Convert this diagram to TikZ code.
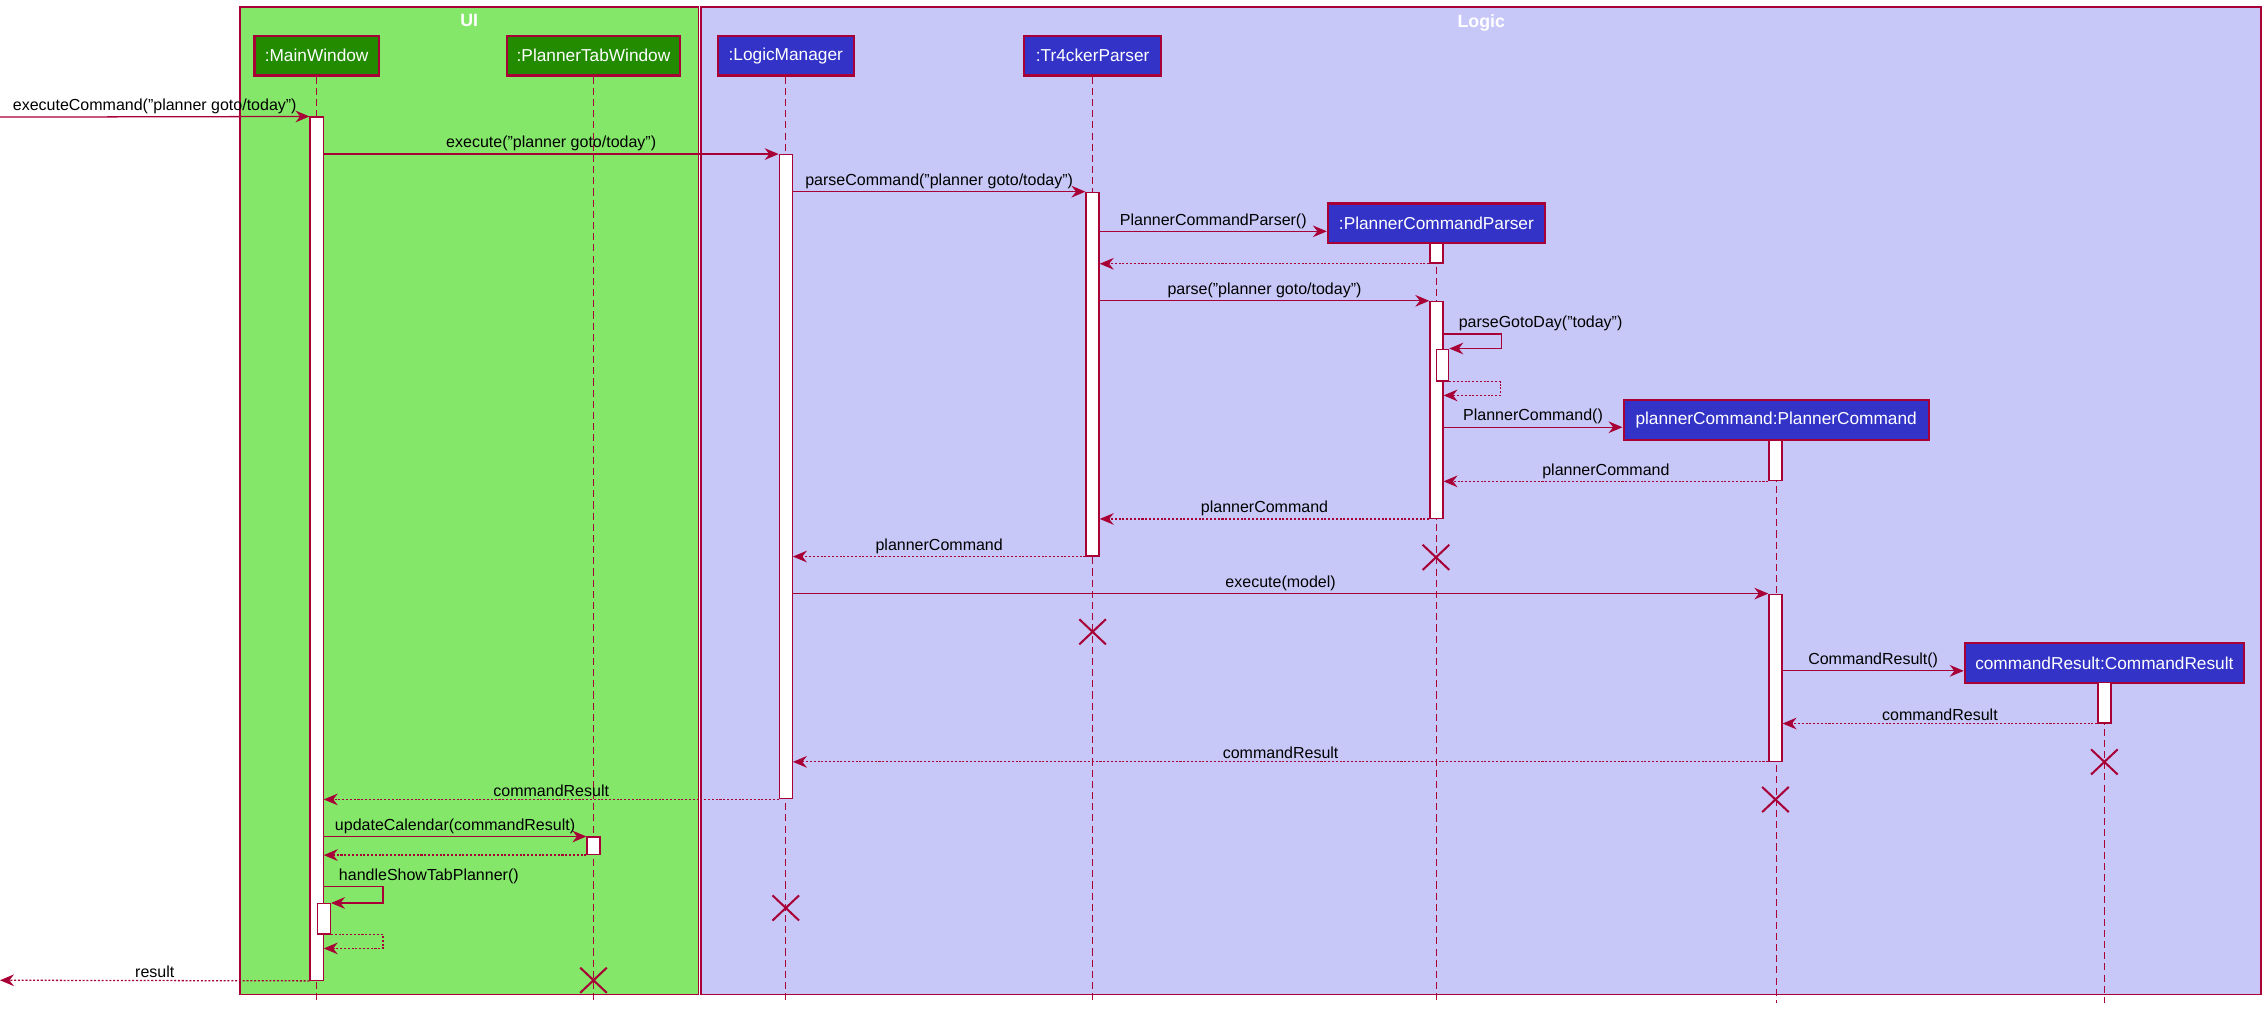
\documentclass[tikz,border=0pt]{standalone}
\usepackage{fontspec}
\setmainfont{Liberation Sans}
\usetikzlibrary{arrows.meta,fit,positioning,shapes.misc}
\definecolor{umlred}{HTML}{A80036}
\definecolor{uifill}{HTML}{84E76A}
\definecolor{uibox}{HTML}{228B00}
\definecolor{logicfill}{HTML}{C8C8F8}
\definecolor{logicbox}{HTML}{3333C8}
\newcommand{\msgfont}{\fontsize{6.3}{7.5}\selectfont}
\newcommand{\partfont}{\fontsize{6.8}{8}\selectfont}

\begin{document}
\begin{tikzpicture}[x=0.02cm,y=-0.02cm,
	frame/.style={draw=umlred,line width=0.6pt,inner sep=0pt},
	frametitle/.style={text=white,inner sep=1pt,font=\fontsize{7}{8}\selectfont\bfseries},
	uipart/.style={draw=umlred,line width=0.9pt,fill=uibox,text=white,minimum height=0.55cm,inner xsep=2pt,font=\partfont},
	logicpart/.style={uipart,fill=logicbox},
	lifeline/.style={draw=umlred,line width=0.45pt,dash pattern=on 2.8pt off 1.6pt},
	act/.style={draw=umlred,fill=white,line width=0.5pt,inner sep=0pt},
	msg/.style={draw=umlred,line width=0.5pt,-{Stealth[length=5.5pt,width=4.6pt,inset=1.8pt]}},
	ret/.style={msg,dash pattern=on 0.8pt off 0.7pt},
	lbl/.style={above,inner sep=0.9pt,font=\msgfont},
	selflbl/.style={anchor=south west,xshift=0.17cm,inner sep=0.9pt,font=\msgfont},
	killed/.style={cross out,draw=umlred,line width=0.8pt,minimum width=0.34cm,minimum height=0.32cm,inner sep=0pt}]
	%\draw[help lines] (0,0) grid[step=100] (1568,699);
	\useasboundingbox (0,0) rectangle (1568,699);
	\coordinate (bot) at (0,694);
	\coordinate (start) at (0,81);
	\coordinate (out) at (0,678);
	\coordinate (m4) at (0,160);
	\coordinate (m7) at (0,231);
	\coordinate (m8) at (0,273.5);
	\coordinate (m9) at (0,295.5);
	\coordinate (m14) at (0,464);
	\coordinate (m20) at (0,613);
	\coordinate (m21) at (0,656);

	% boxes
	\node[frame,fill=uifill,fit={(166,5) (483,688)}] (ui) {};
	\node[frame,fill=logicfill,fit={(485,5) (1564,688)}] (logic) {};
	\node[frametitle,below=2pt of ui.north] (uititle) {UI};
	\node[frametitle,below=2pt of logic.north] (logictitle) {Logic};

	% participants
	\node[uipart,minimum width=1.72cm] (mw) at (219,38.5) {:MainWindow};
	\node[uipart,minimum width=2.4cm] (ptw) at (410.5,38.5) {:PlannerTabWindow};
	\node[logicpart,minimum width=1.88cm] (lm) at (543.5,38.5) {:LogicManager};
	\node[logicpart,minimum width=1.9cm] (tp) at (755.7,38.5) {:Tr4ckerParser};
	\node[logicpart,minimum width=3cm] (pcp) at (993.5,154.5) {:PlannerCommandParser};
	\node[logicpart,minimum width=4.22cm] (pc) at (1228.5,290.5) {plannerCommand:PlannerCommand};
	\node[logicpart,minimum width=3.86cm] (cr) at (1455.5,458.5) {commandResult:CommandResult};
	\foreach \p in {mw,ptw,lm,tp,pcp,pc,cr}
		\draw[lifeline] (\p.south) -- (\p.south |- bot);

	% activations
	\node[act,fit={(214.5,81) (223.5,678)}] (mwact) {};
	\node[act,fit={(219.5,625) (228.5,646)}] (mwself) {};
	\node[act,fit={(406,579) (415,591)}] (ptwact) {};
	\node[act,fit={(539,107) (548,552.5)}] (lmact) {};
	\node[act,fit={(751.2,133) (760.2,384.5)}] (tpact) {};
	\node[act,fit={(989,168) (998,182)}] (pcpact) {};
	\node[act,fit={(989,208.5) (998,358.5)}] (pcpmain) {};
	\node[act,fit={(993.5,241.5) (1002,263.5)}] (pcpself) {};
	\node[act,fit={(1223.5,304.5) (1232.5,332.5)}] (pcact) {};
	\node[act,fit={(1223.5,411) (1232.5,526.5)}] (pcmain) {};
	\node[act,fit={(1451,472) (1460,500)}] (cract) {};

	% messages
	\draw[msg] (start) -- node[lbl] {executeCommand("planner goto/today")} (mwact.north west);
	\draw[msg] (mwact.east |- lmact.north) -- node[lbl] {execute("planner goto/today")} (lmact.north west);
	\draw[msg] (lmact.east |- tpact.north) -- node[lbl] {parseCommand("planner goto/today")} (tpact.north west);
	\draw[msg] (tpact.east |- m4) -- node[lbl] {PlannerCommandParser()} (pcp.west |- m4);
	\draw[ret] (pcpact.south west) -- (tpact.east |- pcpact.south);
	\draw[msg] (tpact.east |- pcpmain.north) -- node[lbl] {parse("planner goto/today")} (pcpmain.north west);
	\draw[msg] (pcpmain.east |- m7) node[selflbl] {parseGotoDay("today")} -- ++(40,0) |- (pcpself.north east);
	\draw[ret] (pcpself.south east) -- ++(35.5,0) |- (pcpmain.east |- m8);
	\draw[msg] (pcpmain.east |- m9) -- node[lbl] {PlannerCommand()} (pc.west |- m9);
	\draw[ret] (pcact.south west) -- node[lbl] {plannerCommand} (pcpmain.east |- pcact.south);
	\draw[ret] (pcpmain.south west) -- node[lbl] {plannerCommand} (tpact.east |- pcpmain.south);
	\draw[ret] (tpact.south west) -- node[lbl] {plannerCommand} (lmact.east |- tpact.south);
	\draw[msg] (lmact.east |- pcmain.north) -- node[lbl] {execute(model)} (pcmain.north west);
	\draw[msg] (pcmain.east |- m14) -- node[lbl] {CommandResult()} (cr.west |- m14);
	\draw[ret] (cract.south west) -- node[lbl] {commandResult} (pcmain.east |- cract.south);
	\draw[ret] (pcmain.south west) -- node[lbl] {commandResult} (lmact.east |- pcmain.south);
	\draw[ret] (lmact.south west) -- node[lbl] {commandResult} (mwact.east |- lmact.south);
	\draw[msg] (mwact.east |- ptwact.north) -- node[lbl] {updateCalendar(commandResult)} (ptwact.north west);
	\draw[ret] (ptwact.south west) -- (mwact.east |- ptwact.south);
	\draw[msg] (mwact.east |- m20) node[selflbl] {handleShowTabPlanner()} -- ++(41,0) |- (mwself.north east);
	\draw[ret] (mwself.south east) -- ++(36,0) |- (mwact.east |- m21);
	\draw[ret] (mwact.south west) -- node[lbl] {result} (out);

	% destroyed
	\node[killed] (pcpx) at (993.2,385.5) {};
	\node[killed] (tpx) at (755.7,437) {};
	\node[killed] (crx) at (1455.5,527) {};
	\node[killed] (pcx) at (1228,553) {};
	\node[killed] (lmx) at (543.5,628) {};
	\node[killed] (ptwx) at (410.5,678) {};
\end{tikzpicture}
\end{document}
